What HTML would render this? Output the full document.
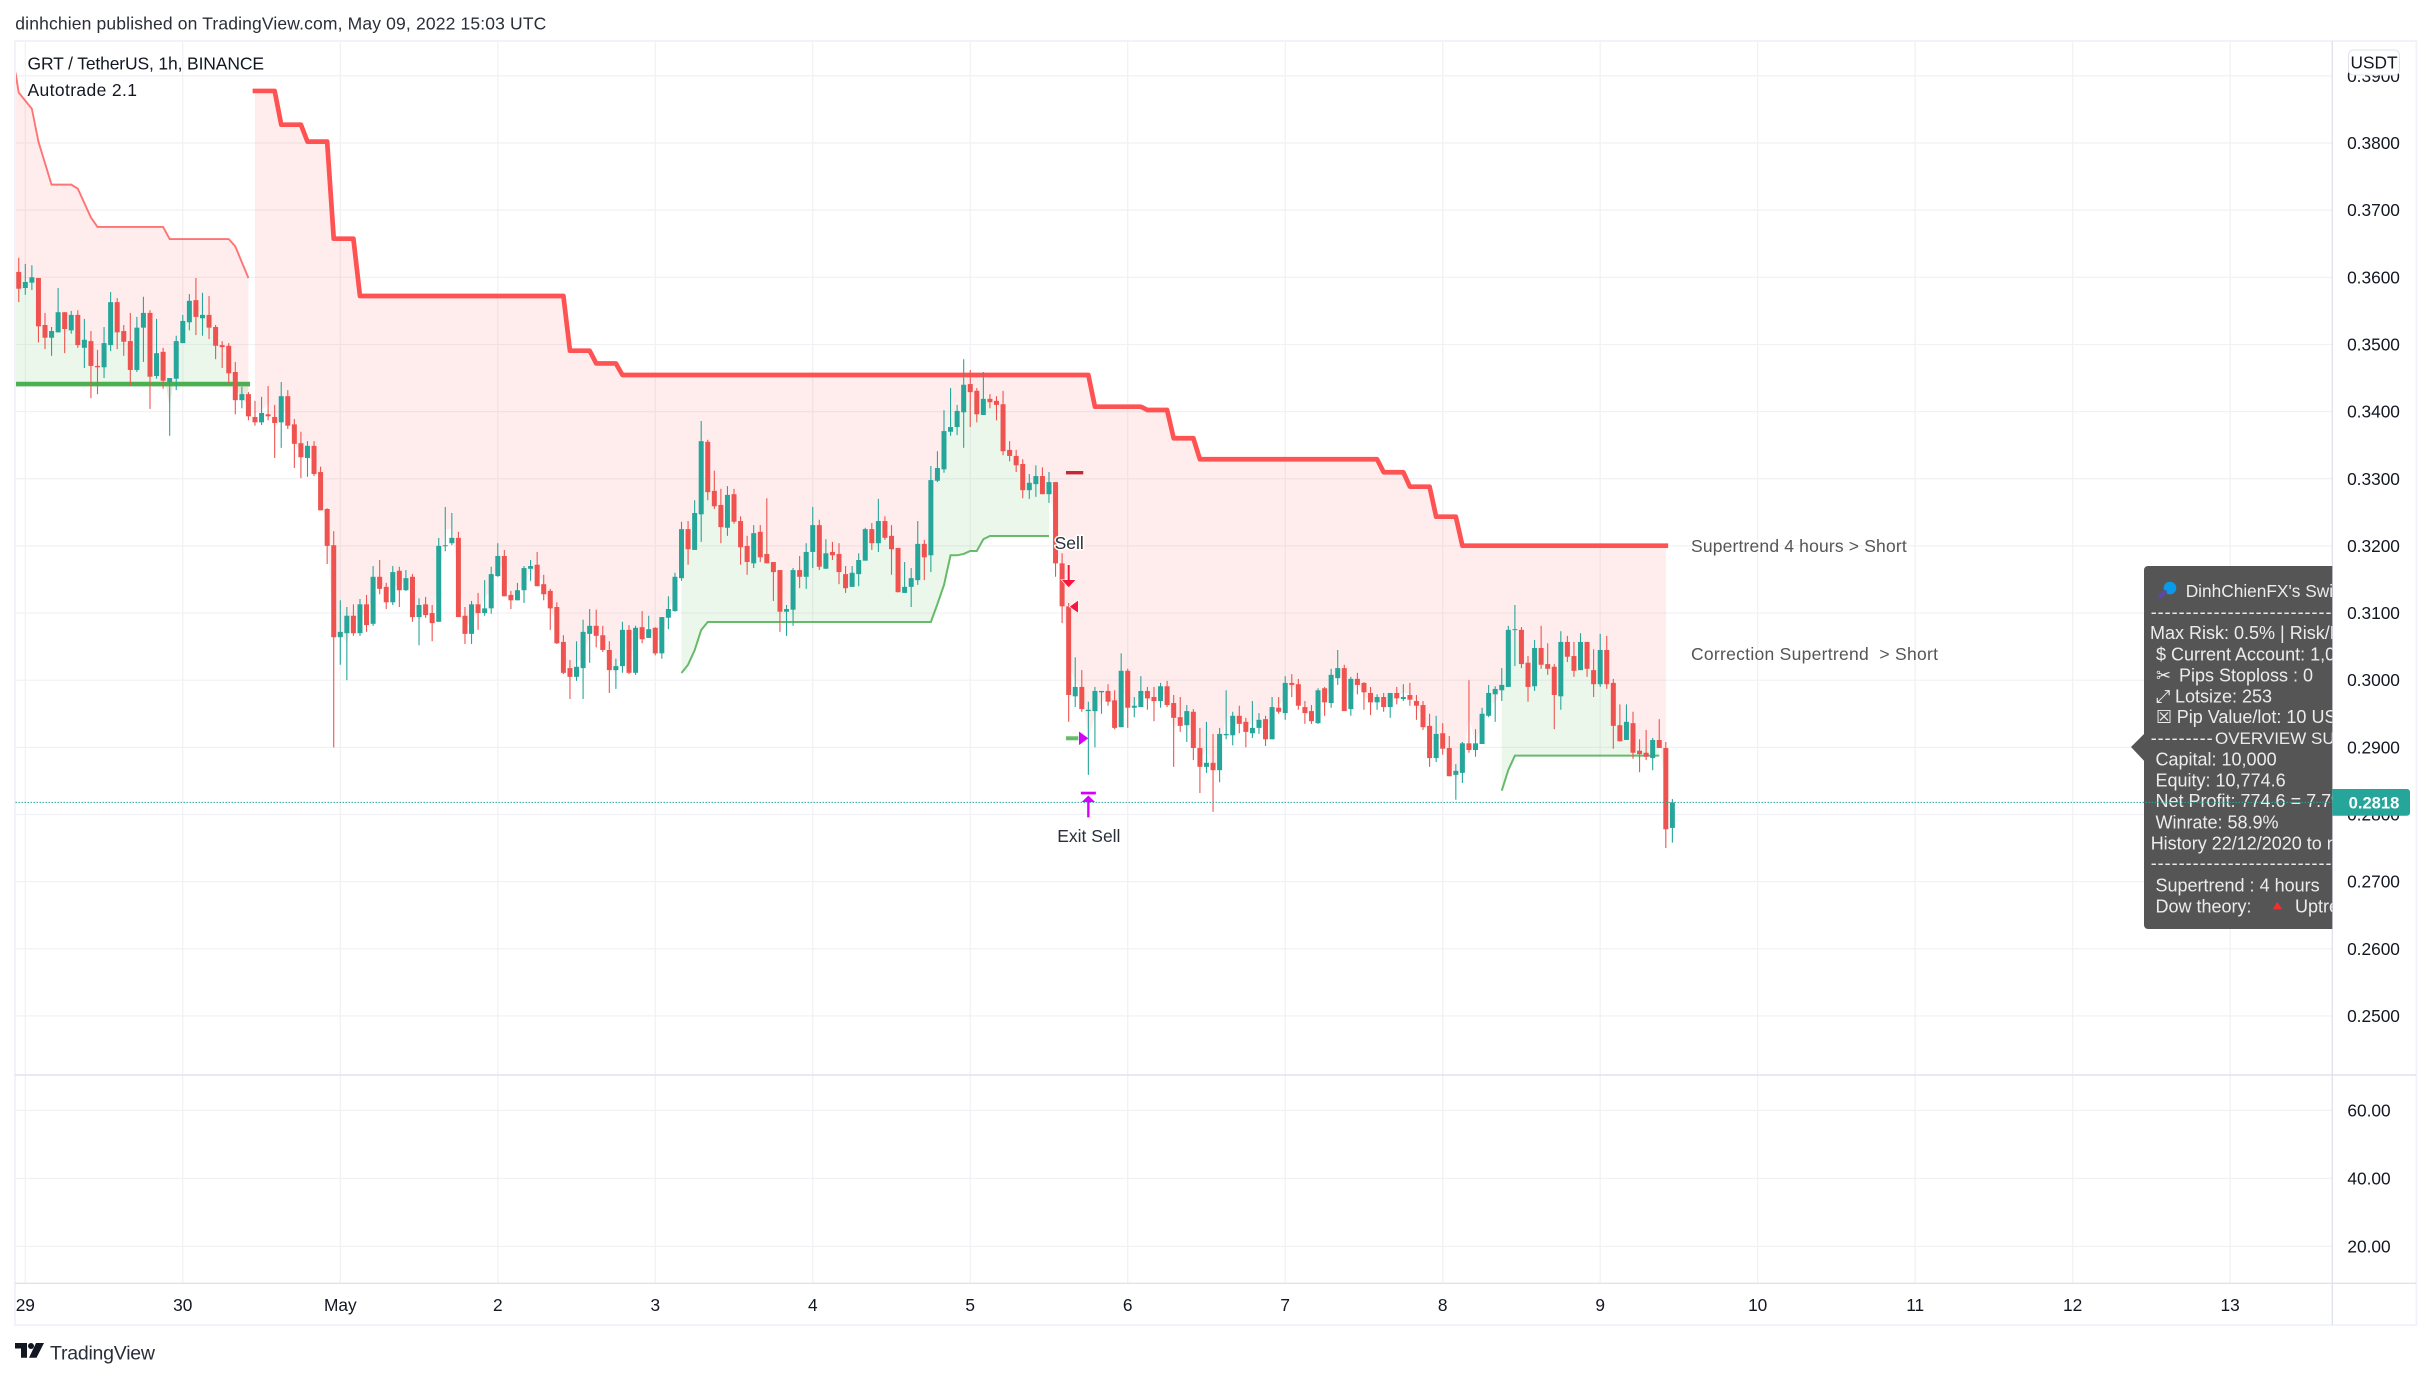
<!DOCTYPE html>
<html lang="en">
<head>
<meta charset="utf-8">
<title>GRT / TetherUS 1h chart</title>
<style>
html,body{margin:0;padding:0;background:#fff;width:2431px;height:1378px;overflow:hidden}
svg{display:block}
text{font-family:"Liberation Sans","DejaVu Sans",sans-serif;white-space:pre}
.ax{font-size:17.3px;fill:#131722;text-anchor:middle}
.tip{font-size:18px;fill:#ececec}
</style>
</head>
<body>
<svg id="chart" width="2431" height="1378" viewBox="0 0 2431 1378" xmlns="http://www.w3.org/2000/svg">
  <defs>
    <clipPath id="plotClip"><rect x="15.5" y="42" width="2316.5" height="1033"/></clipPath>
    <clipPath id="tipClip"><rect x="2125" y="560" width="207.3" height="375"/></clipPath>
  </defs>
  <rect x="0" y="0" width="2431" height="1378" fill="#ffffff"/>
  <text x="15.3" y="29.5" font-size="17.5" fill="#2a2e39" textLength="531" lengthAdjust="spacing">dinhchien published on TradingView.com, May 09, 2022 15:03 UTC</text>
  <g id="grid"></g>
  <g id="plot" clip-path="url(#plotClip)"></g>
  <g fill="none">
    <rect x="15" y="41" width="2401.5" height="1284" stroke="#f0f3fa" stroke-width="2"/>
    <line x1="15" x2="2416" y1="1075" y2="1075" stroke="#e0e3eb" stroke-width="1.4"/>
    <line x1="15" x2="2416" y1="1283.3" y2="1283.3" stroke="#e0e3eb" stroke-width="1.4"/>
    <line x1="2332.3" x2="2332.3" y1="41" y2="1325" stroke="#e0e3eb" stroke-width="1.4"/>
  </g>
  <g id="priceAxis"></g>
  <g id="timeAxis"></g>
  <text x="27.5" y="69.5" font-size="17.5" fill="#131722" textLength="236.5" lengthAdjust="spacing">GRT / TetherUS, 1h, BINANCE</text>
  <text x="27.5" y="96" font-size="17.5" fill="#131722" textLength="109.5" lengthAdjust="spacing">Autotrade 2.1</text>
  <text x="1691" y="552" font-size="17.5" fill="#555555" textLength="215.7" lengthAdjust="spacing">Supertrend 4 hours &gt; Short</text>
  <text x="1691" y="660" font-size="17.5" fill="#555555" textLength="247" lengthAdjust="spacing">Correction Supertrend  &gt; Short</text>

  <g clip-path="url(#tipClip)">
    <path d="M2148 566H2340V929H2148a4 4 0 0 1-4-4V760.7L2131 747L2144 734V570a4 4 0 0 1 4-4Z" fill="#555555"/>
    <circle cx="2170" cy="588" r="6.3" fill="#0a9be8"/>
    <line x1="2165" y1="592" x2="2160" y2="597" stroke="#5b4a9e" stroke-width="4" stroke-linecap="round"/>
    <text class="tip" x="2185.7" y="597" style="font-size:17.3px">DinhChienFX's Swing</text>
    <text class="tip" x="2150.7" y="618" letter-spacing="1">------------------------------</text>
    <text class="tip" x="2150" y="639">Max Risk: 0.5% | Risk/Reward</text>
    <text class="tip" x="2156" y="660.5">$ Current Account: 1,000</text>
    <text class="tip" x="2156" y="681.5">✂<tspan x="2179">Pips Stoploss : 0</tspan></text>
    <text class="tip" x="2156" y="702.5">⤢<tspan x="2175">Lotsize: 253</tspan></text>
    <text class="tip" x="2156" y="723">☒<tspan x="2176.7">Pip Value/lot: 10 USD</tspan></text>
    <text class="tip" x="2150.7" y="744" letter-spacing="1">---------<tspan x="2215" letter-spacing="0" style="font-size:17px">OVERVIEW SUMMARY</tspan></text>
    <text class="tip" x="2155.5" y="765.5">Capital: 10,000</text>
    <text class="tip" x="2155.5" y="786.5">Equity: 10,774.6</text>
    <text class="tip" x="2155.5" y="807">Net Profit: 774.6 = 7.7%</text>
    <text class="tip" x="2155.5" y="828.5">Winrate: 58.9%</text>
    <text class="tip" x="2150.7" y="849.5">History 22/12/2020 to now</text>
    <text class="tip" x="2150.7" y="869" letter-spacing="1">------------------------------</text>
    <text class="tip" x="2155.5" y="891.5">Supertrend : 4 hours</text>
    <text class="tip" x="2155.5" y="912.5">Dow theory:<tspan x="2295">Uptrend</tspan></text>
    <polygon points="2277.3,901.7 2282,909.3 2272.7,909.3" fill="#f23030"/>
  </g>
  <line id="lastLine" x1="15.5" x2="2332" stroke="#26a69a" stroke-width="1" stroke-dasharray="1.5 1.5"/>
  <g>
    <rect x="2348.5" y="50" width="51" height="25" rx="5" fill="#ffffff" stroke="#e0e3eb"/>
    <text class="ax" x="2374" y="68.5" font-size="17">USDT</text>
  </g>
  <g id="lastTag"></g>
  <g>
    <polygon points="15,1343 27,1343 27,1357.7 21,1357.7 21,1348.5 15,1348.5" fill="#131722"/>
    <circle cx="31" cy="1346" r="3" fill="#131722"/>
    <polygon points="36,1343 44,1343 36.5,1357.7 29,1357.7" fill="#131722"/>
    <text x="50" y="1359.5" font-size="19.5" fill="#2a2e39" textLength="105" lengthAdjust="spacing">TradingView</text>
  </g>
</svg>
<script>
// ----- candle data (GRT/USDT, 1h) -----
const opens=[
.3608,.3584,.3592,.3599,.3529,.3510,.3518,.3548,.3521,.3544,
.3495,.3505,.3468,.3466,.3499,.3563,.3520,.3505,.3462,.3525,
.3547,.3453,.3489,.3444,.3449,.3502,.3533,.3566,.3539,.3544,
.3526,.3499,.3498,.3459,.3417,.3426,.3392,.3384,.3396,.3392,
.3384,.3423,.3381,.3353,.3331,.3349,.3310,.3255,.3201,.3064,
.3070,.3096,.3070,.3113,.3084,.3154,.3139,.3116,.3163,.3134,
.3154,.3094,.3113,.3100,.3087,.3200,.3204,.3212,.3096,.3069,
.3113,.3100,.3107,.3155,.3185,.3127,.3119,.3134,.3166,.3172,
.3143,.3133,.3109,.3057,.3018,.3005,.3018,.3069,.3081,.3067,
.3045,.3015,.3021,.3075,.3011,.3079,.3063,.3078,.3040,.3093,
.3103,.3152,.3225,.3194,.3247,.3355,.3282,.3261,.3227,.3277,
.3237,.3200,.3174,.3221,.3188,.3176,.3164,.3102,.3105,.3164,
.3154,.3191,.3231,.3166,.3191,.3188,.3158,.3139,.3158,.3178,
.3225,.3204,.3237,.3215,.3197,.3130,.3139,.3149,.3203,.3186,
.3297,.3314,.3370,.3377,.3399,.3441,.3431,.3395,.3419,.3416,
.3411,.3343,.3334,.3322,.3283,.3292,.3304,.3277,.3295,.3174,
.3110,.2976,.2990,.2954,.2954,.2982,.2984,.2970,.2930,.3014,
.2959,.2960,.2984,.2975,.2969,.2991,.2966,.2945,.2933,.2953,
.2899,.2871,.2877,.2866,.2918,.2918,.2947,.2938,.2921,.2929,
.2942,.2912,.2959,.2951,.2996,.2994,.2960,.2954,.2936,.2988,
.2966,.3003,.3018,.2957,.3002,.2996,.2981,.2967,.2975,.2960,
.2981,.2972,.2978,.2969,.2963,.2932,.2884,.2921,.2899,.2859,
.2862,.2906,.2896,.2905,.2947,.2979,.2985,.2990,.3075,.3075,
.3026,.2991,.3048,.3024,.3020,.2976,.3057,.3036,.3015,.3057,
.3015,.2994,.3045,.2996,.2933,.2911,.2936,.2895,.2892,.2884,
.2911,.2899,.2780];
const highs=[
.3629,.3620,.3618,.3599,.3547,.3526,.3584,.3548,.3550,.3551,
.3538,.3520,.3492,.3526,.3578,.3569,.3529,.3547,.3541,.3571,
.3551,.3538,.3495,.3450,.3513,.3544,.3575,.3599,.3577,.3572,
.3529,.3505,.3502,.3474,.3437,.3429,.3416,.3422,.3438,.3410,
.3444,.3432,.3389,.3370,.3356,.3356,.3318,.3256,.3222,.3119,
.3109,.3113,.3121,.3127,.3170,.3179,.3145,.3170,.3169,.3164,
.3158,.3122,.3124,.3112,.3212,.3258,.3249,.3221,.3109,.3118,
.3130,.3149,.3169,.3204,.3194,.3133,.3145,.3170,.3179,.3191,
.3157,.3136,.3116,.3067,.3030,.3058,.3090,.3106,.3105,.3081,
.3058,.3032,.3087,.3082,.3081,.3103,.3096,.3079,.3094,.3125,
.3160,.3236,.3237,.3268,.3386,.3358,.3312,.3285,.3289,.3285,
.3244,.3215,.3231,.3231,.3271,.3176,.3164,.3112,.3167,.3185,
.3204,.3258,.3239,.3210,.3206,.3204,.3170,.3170,.3189,.3227,
.3234,.3270,.3244,.3231,.3197,.3176,.3167,.3237,.3209,.3319,
.3341,.3402,.3435,.3410,.3478,.3462,.3435,.3459,.3426,.3423,
.3431,.3356,.3343,.3329,.3307,.3320,.3317,.3310,.3295,.3189,
.3115,.3034,.3015,.2968,.2990,.2984,.2994,.2985,.3040,.3017,
.2975,.3006,.2990,.2990,.2996,.2999,.2978,.2975,.2963,.2957,
.2929,.2938,.2920,.2929,.2985,.2953,.2962,.2944,.2969,.2951,
.2947,.2975,.2975,.3006,.3009,.3002,.2969,.2963,.2988,.2990,
.3017,.3045,.3023,.3005,.3011,.2997,.2990,.2979,.2981,.2981,
.2990,.2994,.2996,.2978,.2969,.2950,.2947,.2936,.2917,.2875,
.2908,.3000,.2927,.2959,.2993,.2991,.3018,.3081,.3112,.3079,
.3036,.3060,.3081,.3055,.3024,.3073,.3066,.3057,.3070,.3057,
.3046,.3069,.3066,.3002,.2964,.2964,.2953,.2912,.2926,.2914,
.2942,.2908,.2823];
const lows=[
.3563,.3574,.3581,.3503,.3493,.3483,.3518,.3487,.3516,.3495,
.3465,.3420,.3426,.3450,.3490,.3493,.3483,.3438,.3459,.3474,
.3404,.3449,.3434,.3364,.3432,.3502,.3521,.3514,.3513,.3508,
.3478,.3465,.3441,.3396,.3405,.3387,.3379,.3380,.3387,.3331,
.3346,.3374,.3316,.3301,.3303,.3304,.3253,.3173,.2900,.3023,
.3000,.3066,.3066,.3072,.3081,.3128,.3106,.3112,.3109,.3133,
.3087,.3052,.3093,.3058,.3087,.3192,.3201,.3094,.3054,.3054,
.3075,.3096,.3099,.3154,.3125,.3106,.3119,.3115,.3148,.3140,
.3119,.3075,.3054,.3009,.2972,.2999,.2972,.3026,.3049,.3042,
.2981,.2987,.3011,.3009,.3008,.3055,.3063,.3037,.3032,.3076,
.3102,.3148,.3172,.3194,.3206,.3268,.3255,.3204,.3215,.3233,
.3172,.3157,.3167,.3176,.3174,.3118,.3072,.3066,.3081,.3137,
.3136,.3167,.3164,.3166,.3179,.3143,.3130,.3139,.3140,.3178,
.3194,.3191,.3209,.3157,.3131,.3130,.3109,.3142,.3149,.3161,
.3295,.3309,.3364,.3365,.3346,.3377,.3384,.3395,.3405,.3387,
.3335,.3326,.3310,.3271,.3270,.3273,.3277,.3264,.3154,.3085,
.2938,.2960,.2953,.2859,.2900,.2950,.2962,.2927,.2930,.2929,
.2945,.2960,.2956,.2939,.2959,.2960,.2871,.2923,.2908,.2881,
.2832,.2862,.2804,.2848,.2912,.2903,.2921,.2900,.2914,.2920,
.2902,.2912,.2950,.2941,.2975,.2956,.2935,.2935,.2935,.2947,
.2959,.2993,.2954,.2947,.2979,.2956,.2948,.2956,.2953,.2944,
.2964,.2969,.2962,.2941,.2926,.2871,.2878,.2889,.2857,.2822,
.2847,.2892,.2886,.2905,.2945,.2938,.2969,.2990,.3021,.3018,
.2968,.2984,.3017,.3008,.2927,.2956,.3027,.3005,.3015,.3005,
.2975,.2990,.2987,.2898,.2909,.2911,.2883,.2863,.2881,.2866,
.2899,.2750,.2758];
const closes=[
.3583,.3593,.3600,.3527,.3510,.3520,.3548,.3523,.3544,.3499,
.3507,.3468,.3466,.3502,.3563,.3518,.3504,.3462,.3525,.3547,
.3452,.3487,.3446,.3450,.3505,.3535,.3565,.3541,.3544,.3525,
.3498,.3496,.3457,.3417,.3426,.3393,.3384,.3398,.3393,.3383,
.3423,.3379,.3352,.3332,.3349,.3307,.3253,.3200,.3064,.3072,
.3096,.3070,.3113,.3082,.3154,.3136,.3116,.3161,.3134,.3152,
.3094,.3112,.3097,.3085,.3200,.3201,.3212,.3094,.3069,.3113,
.3100,.3107,.3158,.3185,.3125,.3119,.3134,.3167,.3170,.3140,
.3128,.3107,.3055,.3011,.3005,.3020,.3072,.3081,.3066,.3045,
.3015,.3021,.3075,.3011,.3078,.3061,.3076,.3040,.3094,.3106,
.3154,.3225,.3195,.3249,.3356,.3280,.3259,.3228,.3276,.3236,
.3198,.3176,.3219,.3183,.3174,.3161,.3102,.3106,.3164,.3154,
.3191,.3231,.3169,.3189,.3186,.3161,.3137,.3160,.3179,.3225,
.3204,.3237,.3212,.3195,.3131,.3139,.3152,.3203,.3183,.3298,
.3316,.3371,.3377,.3401,.3440,.3429,.3396,.3419,.3414,.3410,
.3341,.3334,.3320,.3283,.3294,.3304,.3277,.3295,.3174,.3110,
.2978,.2990,.2957,.2956,.2984,.2984,.2968,.2929,.3014,.2959,
.2962,.2984,.2973,.2969,.2991,.2963,.2944,.2932,.2954,.2899,
.2871,.2877,.2866,.2920,.2920,.2947,.2935,.2923,.2929,.2941,
.2912,.2960,.2953,.2996,.2993,.2962,.2951,.2939,.2985,.2967,
.3008,.3018,.2954,.3002,.2993,.2982,.2967,.2975,.2960,.2981,
.2973,.2975,.2971,.2962,.2930,.2884,.2920,.2898,.2857,.2865,
.2906,.2896,.2906,.2950,.2981,.2987,.2993,.3075,.3076,.3024,
.2990,.3048,.3023,.3017,.2978,.3057,.3035,.3014,.3057,.3017,
.2994,.3045,.2994,.2932,.2909,.2938,.2892,.2890,.2886,.2911,
.2899,.2778,.2818];

// ----- indicator series: bar index + price -----
const supertrendBars=[36,39,40,43,44,47,48,51,52,83,84,87,88,91,92,163,164,171,172,175,176,179,180,207,208,211,212,215,216,219,220,251];
const supertrendValues=[.38775,.38775,.38273,.38273,.3802,.3802,.36575,.36575,.35722,.35722,.34907,.34907,.34717,.34717,.34545,.34545,.34073,.34073,.34024,.34024,.33603,.33603,.3329,.3329,.33097,.33097,.32882,.32882,.32435,.32435,.32003,.32003];
const correctionRedBars=[-0.5,0,2,3,5,8,9,11,12,22,23,32,33,35];
const correctionRedValues=[.3905,.3875,.3851,.3802,.3738,.3738,.3732,.3689,.3675,.3675,.3657,.3657,.3646,.3599];
const correctionGreenBars1=[-0.5,35.25];
const correctionGreenValues1=[.3441,.3441];
const correctionGreenBars2=[101,102,103,104,105,139,140,141,142,143,144,145,146,147,148,157];
const correctionGreenValues2=[.30108,.30231,.30446,.30748,.30867,.30867,.31135,.31418,.3186,.3186,.3188,.31925,.31925,.32099,.32148,.32148];
const correctionGreenBars3=[226,227,228,250];
const correctionGreenValues3=[.28355,.28663,.28876,.28876];

// ----- axis data -----
const priceTicks=[.39,.38,.37,.36,.35,.34,.33,.32,.31,.30,.29,.28,.27,.26,.25];
const oscTicks=[60,40,20];
const timeLabels=['29','30','May','2','3','4','5','6','7','8','9','10','11','12','13'];
const barsPerDay=24;
const firstDayBar=1;

// ----- signal data -----
const sellBar=160, exitBar=163;
const sellEntryPrice=.3309, sellArrowPrice=.3172, sellTrianglePrice=.31095;
const exitDashPrice=.29135, exitArrowPrice=.2818;

// ----- scales -----
function xScale(i){return 18.75+i*6.562;}
function yScale(p){return 143+(0.38-p)*6715;}
function oscY(v){return 1110.3+(60-v)*3.4;}

const NS='http://www.w3.org/2000/svg';
function mk(tag,attrs,parent){
  const el=document.createElementNS(NS,tag);
  for(const k in attrs){el.setAttribute(k,attrs[k]);}
  parent.appendChild(el);
  return el;
}
function linePts(bars,vals){return bars.map((b,i)=>xScale(b).toFixed(2)+','+yScale(vals[i]).toFixed(2)).join(' ');}
function hl2(i){return (highs[i]+lows[i])/2;}
function midPts(a,b,dir){
  const out=[];
  for(let i=a;i<=b;i++){out.push(xScale(i).toFixed(2)+','+yScale(hl2(i)).toFixed(2));}
  return dir<0?out.reverse():out;
}

const grid=document.getElementById('grid');
const plot=document.getElementById('plot');
const priceAxis=document.getElementById('priceAxis');
const timeAxis=document.getElementById('timeAxis');
const lastTag=document.getElementById('lastTag');

// ----- grid -----
priceTicks.forEach(function(p){
  const y=yScale(p);
  const l=mk('line',{x1:15.5,x2:2332,y1:y,y2:y,stroke:'#f0f1f4','stroke-width':1.2},grid);
  
  
  const t=mk('text',{x:2373.5,y:y+6,class:'ax'},priceAxis);
  
  
  t.textContent=p.toFixed(4);
});
oscTicks.forEach(function(v){
  const y=oscY(v);
  const l=mk('line',{x1:15.5,x2:2332,y1:y,y2:y,stroke:'#f0f1f4','stroke-width':1.2},grid);
  
  
  const t=mk('text',{x:2369,y:y+6,class:'ax'},priceAxis);
  
  
  t.textContent=v.toFixed(2);
});
timeLabels.forEach(function(lab,k){
  const x=xScale(firstDayBar+k*barsPerDay);
  const l=mk('line',{x1:x,x2:x,y1:42,y2:1283,stroke:'#f0f1f4','stroke-width':1.2},grid);
  
  
  const t=mk('text',{x:x,y:1311,class:'ax'},timeAxis);
  
  
  t.textContent=lab;
});

// ----- fills -----
const redFill='rgba(255,82,82,0.105)';
const greenFill='rgba(76,175,80,0.105)';
const fillA=mk('polygon',{fill:redFill,points:linePts(correctionRedBars,correctionRedValues)+' '+midPts(0,35,-1).join(' ')+' '+xScale(-0.5)+','+yScale(hl2(0))},plot);


const fillB=mk('polygon',{fill:redFill,points:linePts(supertrendBars,supertrendValues)+' '+midPts(36,251,-1).join(' ')},plot);


const fillC=mk('polygon',{fill:greenFill,points:xScale(-0.5)+','+yScale(hl2(0))+' '+midPts(0,35,1).join(' ')+' '+xScale(35)+','+yScale(correctionGreenValues1[1])+' '+xScale(-0.5)+','+yScale(correctionGreenValues1[0])},plot);


const fillD=mk('polygon',{fill:greenFill,points:midPts(101,157,1).join(' ')+' '+correctionGreenBars2.slice().reverse().map((b,i,a)=>xScale(b)+','+yScale(correctionGreenValues2[a.length-1-i])).join(' ')},plot);


const fillE=mk('polygon',{fill:greenFill,points:midPts(226,250,1).join(' ')+' '+correctionGreenBars3.slice().reverse().map((b,i,a)=>xScale(b)+','+yScale(correctionGreenValues3[a.length-1-i])).join(' ')},plot);



// ----- lines -----
const lnA=mk('polyline',{points:linePts(correctionRedBars,correctionRedValues),fill:'none',stroke:'#ff5252','stroke-width':1.9,'stroke-opacity':0.8},plot);


const lnB=mk('polyline',{points:linePts(correctionGreenBars1,correctionGreenValues1),fill:'none',stroke:'#4caf50','stroke-width':4.6},plot);


const lnC=mk('polyline',{points:linePts(correctionGreenBars2,correctionGreenValues2),fill:'none',stroke:'#4caf50','stroke-width':2,'stroke-opacity':0.85},plot);


const lnD=mk('polyline',{points:linePts(correctionGreenBars3,correctionGreenValues3),fill:'none',stroke:'#4caf50','stroke-width':2,'stroke-opacity':0.85},plot);


const lnE=mk('polyline',{points:linePts(supertrendBars,supertrendValues),fill:'none',stroke:'#ff5252','stroke-width':4.7,'stroke-linecap':'square','stroke-linejoin':'round'},plot);



// ----- candles -----
const candleGroup=mk('g',{},plot);


opens.forEach(function(o,i){
  const c=closes[i];
  const col=c>=o?'#26a69a':'#ef5350';
  const x=xScale(i);
  const yTop=yScale(Math.max(o,c));
  const yBot=yScale(Math.min(o,c));
  const g=mk('g',{},candleGroup);
  
  
  const w=mk('line',{x1:x,x2:x,y1:yScale(highs[i]),y2:yScale(lows[i]),stroke:col,'stroke-width':1.1},g);
  
  
  const b=mk('rect',{x:x-2.5,y:yTop,width:5,height:Math.max(1,yBot-yTop),fill:col},g);
  
  
});

// ----- signals -----
const sx=xScale(sellBar), ex=xScale(exitBar);
const sg=mk('g',{},plot);


const dashSell=mk('rect',{x:sx-2.7,y:yScale(sellEntryPrice)-1.7,width:17.3,height:3.4,fill:'#c62833'},sg);


const sellLabel=mk('text',{x:sx+0.5,y:549,'font-size':17.5,'text-anchor':'middle',fill:'#2a2e39',stroke:'#ffffff','stroke-width':3,'paint-order':'stroke','stroke-linejoin':'round'},sg);


sellLabel.textContent='Sell';
const ay=yScale(sellArrowPrice);
const arrowDown=mk('polygon',{points:[[sx-1.4,ay],[sx+1.4,ay],[sx+1.4,ay+15],[sx+7.5,ay+15],[sx,ay+23],[sx-7.5,ay+15],[sx-1.4,ay+15]].map(p=>p.join(',')).join(' '),fill:'#f7173f',stroke:'#ffffff','stroke-width':0.7},sg);


const ty=yScale(sellTrianglePrice);
const triLeft=mk('polygon',{points:[[sx+0.5,ty],[sx+9.7,ty-6.7],[sx+9.7,ty+6.7]].map(p=>p.join(',')).join(' '),fill:'#f7173f',stroke:'#ffffff','stroke-width':0.7},sg);


const dy=yScale(exitDashPrice);
const dashExit=mk('rect',{x:sx-2.7,y:dy-2,width:12.3,height:4,fill:'#66bb6a'},sg);


const triRight=mk('polygon',{points:[[sx+10.3,dy-6.8],[sx+19.6,dy],[sx+10.3,dy+6.8]].map(p=>p.join(',')).join(' '),fill:'#d500f9'},sg);


const uy=yScale(exitArrowPrice);
const capBar=mk('rect',{x:ex-7.5,y:uy-10.7,width:15,height:2.7,fill:'#d500f9'},sg);


const arrowUp=mk('polygon',{points:[[ex,uy-7.4],[ex+7.5,uy],[ex+1.5,uy],[ex+1.5,uy+15.3],[ex-1.5,uy+15.3],[ex-1.5,uy],[ex-7.5,uy]].map(p=>p.join(',')).join(' '),fill:'#d500f9',stroke:'#ffffff','stroke-width':0.6},sg);


const exitLabel=mk('text',{x:ex+0.5,y:842,'font-size':17.5,'text-anchor':'middle',fill:'#2a2e39'},sg);


exitLabel.textContent='Exit Sell';

// ----- last price -----
const lastPrice=closes[closes.length-1];
const ly=yScale(lastPrice);
const ll=document.getElementById('lastLine');
ll.setAttribute('y1',ly);
ll.setAttribute('y2',ly);
const tagBox=mk('path',{d:'M2332.3 '+(ly-13.4)+'H2407a3 3 0 0 1 3 3V'+(ly+10.3)+'a3 3 0 0 1-3 3H2332.3Z',fill:'#26a69a'},lastTag);


const tagText=mk('text',{x:2374,y:ly+6.2,class:'ax',style:'fill:#ffffff;font-weight:bold;font-size:16.6px'},lastTag);


tagText.textContent=lastPrice.toFixed(4);
</script>
</body>
</html>
